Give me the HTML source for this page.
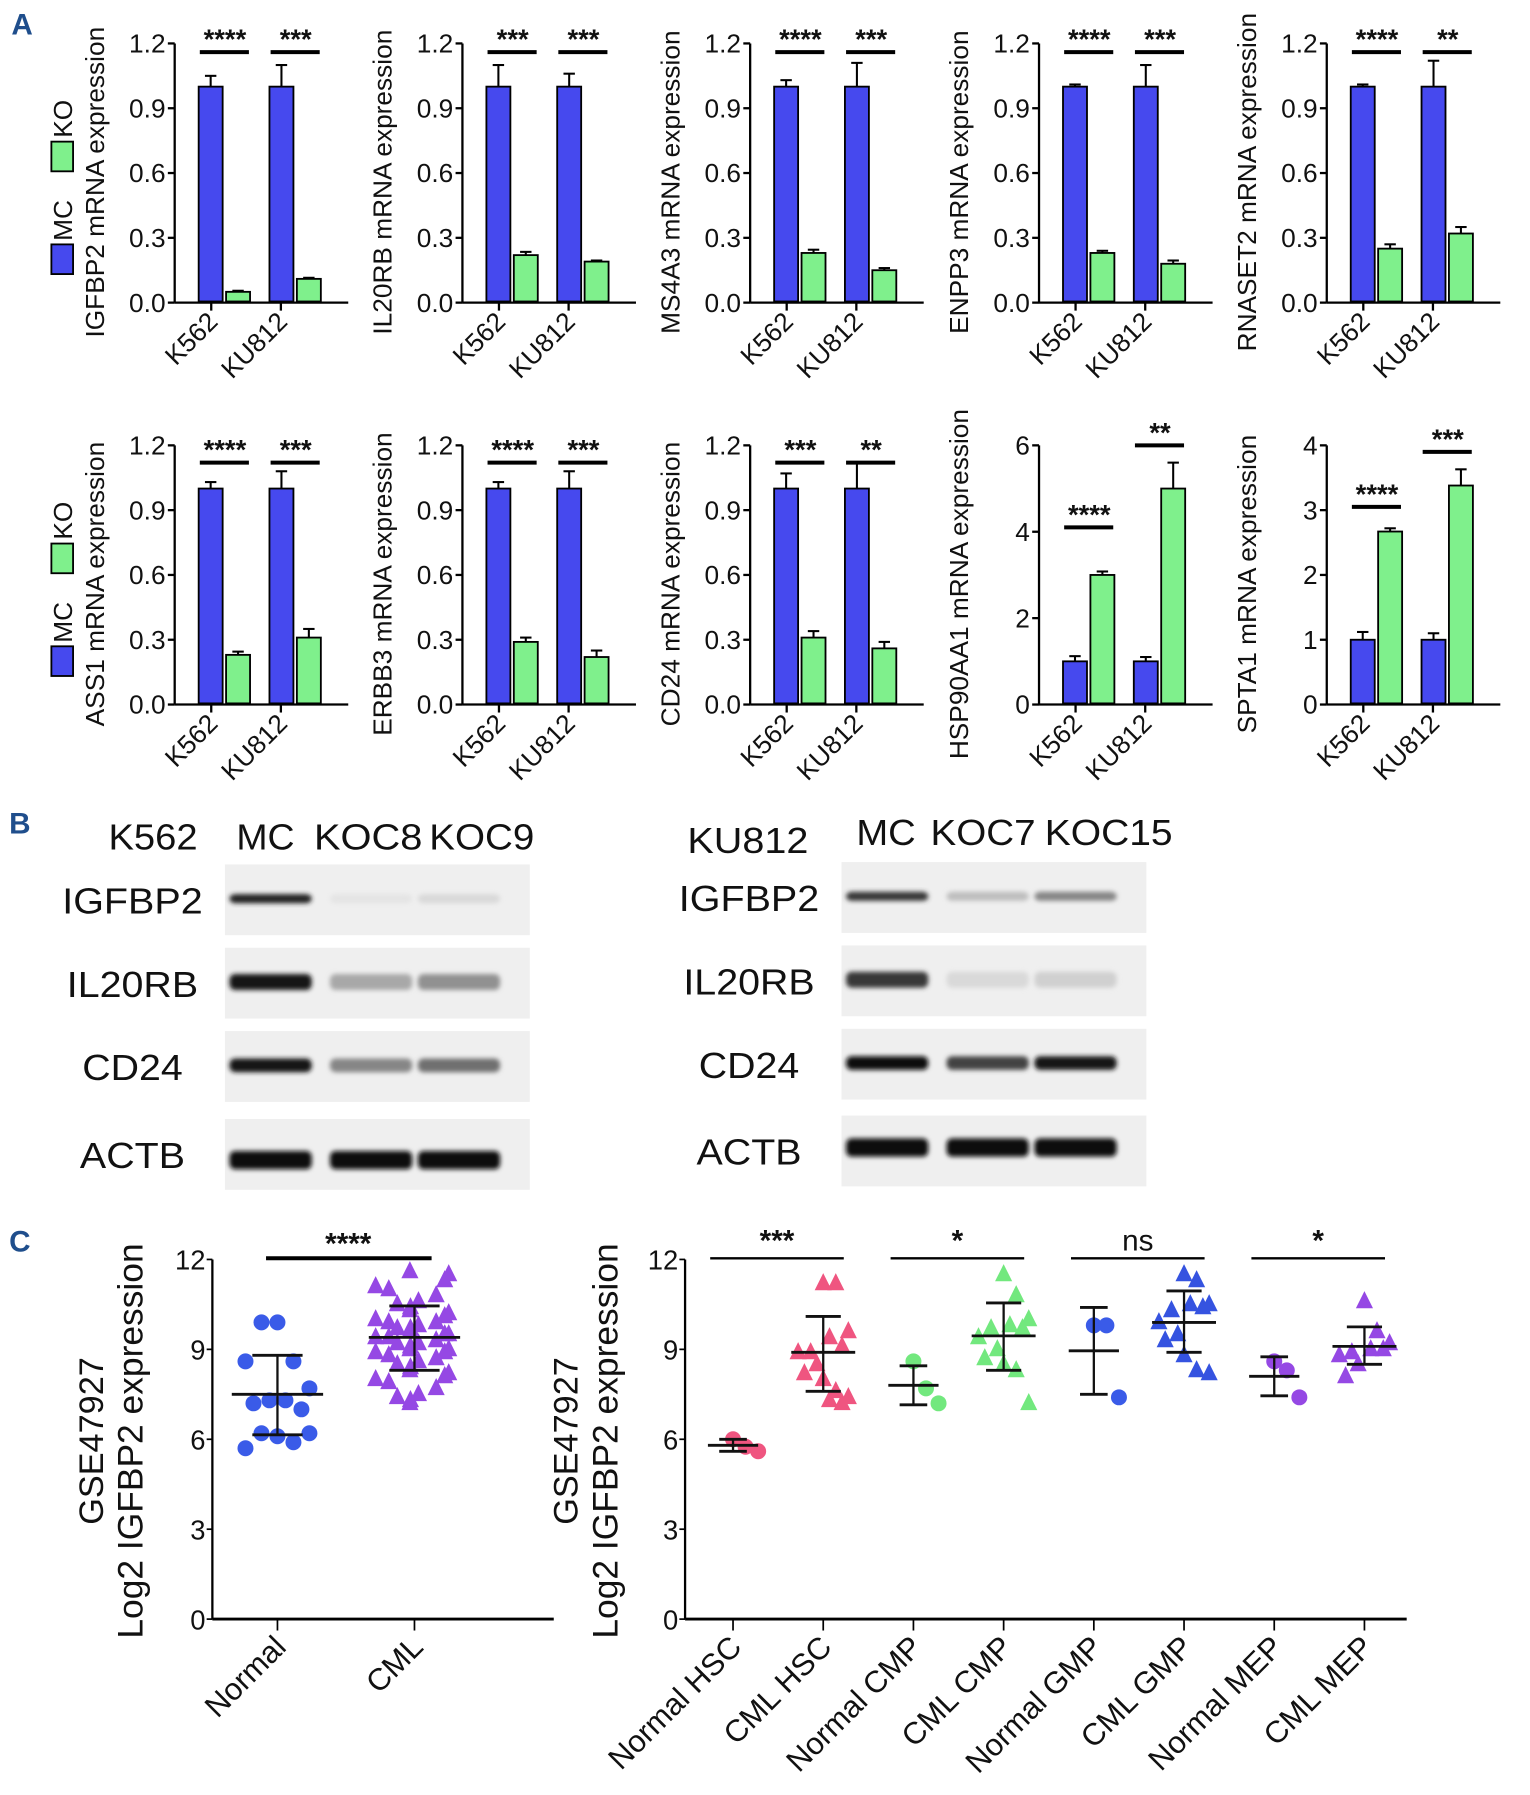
<!DOCTYPE html>
<html><head><meta charset="utf-8"><style>
html,body{margin:0;padding:0;background:#fff;width:1530px;height:1795px;overflow:hidden}
svg{display:block}
text{font-family:"Liberation Sans",Arial,sans-serif;fill:#111}
</style></head><body>
<svg id="fig" width="1530" height="1795" viewBox="0 0 1340 1572" xmlns="http://www.w3.org/2000/svg">
<defs><filter id="blur" x="-20%" y="-50%" width="140%" height="200%"><feGaussianBlur stdDeviation="2.2"/></filter></defs>
<text x="10" y="30" font-size="26" font-weight="bold" style="fill:#1f4e8c">A</text>
<text x="8" y="730" font-size="26" font-weight="bold" style="fill:#1f4e8c">B</text>
<text x="8" y="1096" font-size="26" font-weight="bold" style="fill:#1f4e8c">C</text>
<g id="gA"></g><g id="gB"></g><g id="gC"></g>
</svg>
<script>
// ===== Panel A data =====
const genes = ["IGFBP2","IL20RB","MS4A3","ENPP3","RNASET2","ASS1","ERBB3","CD24","HSP90AA1","SPTA1"];
const cellLines = ["K562","KU812"];
const mcK562 = [1,1,1,1,1,1,1,1,1,1];
const mcK562Err = [0.05,0.1,0.03,0.01,0.01,0.03,0.03,0.07,0.12,0.12];
const koK562 = [0.05,0.22,0.23,0.23,0.25,0.23,0.29,0.31,3.0,2.67];
const koK562Err = [0.005,0.015,0.015,0.01,0.02,0.015,0.02,0.03,0.08,0.05];
const mcKU812 = [1,1,1,1,1,1,1,1,1,1];
const mcKU812Err = [0.1,0.06,0.11,0.1,0.12,0.08,0.08,0.12,0.1,0.1];
const koKU812 = [0.11,0.19,0.15,0.18,0.32,0.31,0.22,0.26,5.0,3.38];
const koKU812Err = [0.005,0.005,0.01,0.015,0.03,0.04,0.03,0.03,0.6,0.25];
const yMaxA = [1.2,1.2,1.2,1.2,1.2,1.2,1.2,1.2,6,4];
const yTicksA = [[0,0.3,0.6,0.9,1.2],[0,0.3,0.6,0.9,1.2],[0,0.3,0.6,0.9,1.2],[0,0.3,0.6,0.9,1.2],[0,0.3,0.6,0.9,1.2],[0,0.3,0.6,0.9,1.2],[0,0.3,0.6,0.9,1.2],[0,0.3,0.6,0.9,1.2],[0,2,4,6],[0,1,2,3,4]];
const sigK562 = ["****","***","****","****","****","****","****","***","****","****"];
const sigKU812 = ["***","***","***","***","**","***","***","**","**","***"];
const sigK562Y = [1.16,1.16,1.16,1.16,1.16,1.12,1.12,1.12,4.1,3.05];
const sigKU812Y = [1.16,1.16,1.16,1.16,1.16,1.12,1.12,1.12,6.0,3.9];

// ===== Panel C data =====
const twoGroups = ["Normal","CML"];
const normalVals = [9.9,9.9,8.6,8.6,7.7,7.3,7.3,7.2,7.0,6.1,6.2,5.9,5.7,6.2];
const cmlVals = [11.6,11.5,11.3,11.1,11.0,10.8,10.6,10.5,10.4,10.3,10.2,10.1,10.0,9.9,9.9,9.8,9.7,9.7,9.6,9.5,9.5,9.4,9.4,9.3,9.2,9.2,9.1,9.0,9.0,8.9,8.9,8.8,8.7,8.6,8.5,8.4,8.3,8.2,8.1,8.0,7.9,7.7,7.5,7.4,7.3,7.2];
const normalStats = [7.5,6.15,8.8];
const cmlStats = [9.4,8.3,10.45];
const subGroups = ["Normal HSC","CML HSC","Normal CMP","CML CMP","Normal GMP","CML GMP","Normal MEP","CML MEP"];
const subVals = [
 [6.0,5.75,5.6],
 [11.2,11.2,9.6,9.4,9.1,8.9,8.9,8.5,8.2,8.0,7.6,7.4,7.3,7.2],
 [8.6,7.7,7.2],
 [11.5,10.8,10.0,9.8,9.7,9.7,9.4,9.0,8.7,8.5,8.3,7.2],
 [9.8,9.8,7.4],
 [11.5,11.3,10.5,10.5,10.4,10.3,9.9,9.5,9.3,8.8,8.3,8.2],
 [8.6,8.3,7.4],
 [10.6,9.6,9.2,9.0,9.0,8.9,8.8,8.5,8.1]];
const subMean = [5.8,8.9,7.8,9.45,8.95,9.9,8.1,9.1];
const subLo = [5.6,7.6,7.15,8.3,7.5,8.9,7.45,8.5];
const subHi = [6.0,10.1,8.45,10.55,10.4,10.95,8.75,9.75];
const subSig = ["***","*","ns","*"];
const yTicksC = [0,3,6,9,12];

const NS="http://www.w3.org/2000/svg";
function el(tag,attrs,parent,txt){const e=document.createElementNS(NS,tag);for(const k in attrs)e.setAttribute(k,attrs[k]);if(txt!==undefined)e.textContent=txt;parent.appendChild(e);return e;}
const BLUE="#4649ee",GREEN="#7ff08c";

// ===== Panel A =====
const gA=document.getElementById('gA');
const axX=[153,405,657,910,1162];
const rowY0=[265,617],rowTop=[38,390];
for(let i=0;i<10;i++){
  const r=Math.floor(i/5),c=i%5,ax=axX[c],y0=rowY0[r],yt=rowTop[r];
  const ys=v=>y0-(v/yMaxA[i])*(y0-yt);
  const g=el('g',{},gA);
  
  
  el('line',{x1:ax,y1:y0,x2:ax,y2:yt,stroke:'#000','stroke-width':2},g);
  el('line',{x1:ax,y1:y0,x2:ax+152,y2:y0,stroke:'#000','stroke-width':2},g);
  yTicksA[i].forEach(t=>{
    const y=ys(t);
    el('line',{x1:ax-6,y1:y,x2:ax,y2:y,stroke:'#000','stroke-width':2},g);
    const lbl=yMaxA[i]===1.2?t.toFixed(1):String(t);
    const tx=el('text',{x:ax-8,y:y+8,'font-size':23,'text-anchor':'end'},g,lbl);
    
    
  });
  const yl=el('text',{x:0,y:0,'font-size':23,'text-anchor':'middle',transform:`translate(${ax-62},${(y0+yt)/2+8}) rotate(-90)`},g,genes[i]+' mRNA expression');
  
  
  const groups=[[mcK562[i],mcK562Err[i],koK562[i],koK562Err[i],21,sigK562[i],sigK562Y[i]],[mcKU812[i],mcKU812Err[i],koKU812[i],koKU812Err[i],83,sigKU812[i],sigKU812Y[i]]];
  groups.forEach((gr,gi)=>{
    const [mv,me,kv,ke,off,sg,sy]=gr;
    [[mv,me,off,BLUE,'mc'],[kv,ke,off+24,GREEN,'ko']].forEach(b=>{
      const x=ax+b[2],w=21,yt2=ys(b[0]);
      const yErr=ys(b[0]+b[1]);
      const e1=el('line',{x1:x+w/2,y1:yt2,x2:x+w/2,y2:yErr,stroke:'#000','stroke-width':1.8},g);
      
      
      el('line',{x1:x+w/2-5,y1:yErr,x2:x+w/2+5,y2:yErr,stroke:'#000','stroke-width':1.8},g);
      const rc=el('rect',{x:x,y:yt2,width:w,height:y0-yt2-1,fill:b[3],stroke:'#000','stroke-width':1.6},g);
      
      
    });
    const cx=ax+off+11+12;
    const ly=ys(sy);
    const sl=el('line',{x1:ax+off+1,y1:ly,x2:ax+off+44,y2:ly,stroke:'#000','stroke-width':3.5},g);
    
    
    const st=el('text',{x:cx,y:ly-3,'font-size':24,'font-weight':'bold','text-anchor':'middle'},g,sg);
    
    
    const tkx=ax+(gi===0?32:93);
    el('line',{x1:tkx,y1:y0,x2:tkx,y2:y0+7,stroke:'#000','stroke-width':2},g);
    const cl=el('text',{x:0,y:0,'font-size':23,'text-anchor':'end',transform:`translate(${tkx+7},${y0+18}) rotate(-45)`},g,cellLines[gi]);
    
    
  });
}
// legends
[0,352].forEach((dy,k)=>{
  const lg=el('g',{},gA);
  
  
  el('rect',{x:45,y:214+dy,width:19,height:26,fill:BLUE,stroke:'#000','stroke-width':1.6},lg);
  el('text',{x:0,y:0,'font-size':23,'text-anchor':'middle',transform:`translate(63,${193+dy}) rotate(-90)`},lg,'MC');
  el('rect',{x:45,y:124+dy,width:19,height:26,fill:GREEN,stroke:'#000','stroke-width':1.6},lg);
  el('text',{x:0,y:0,'font-size':23,'text-anchor':'middle',transform:`translate(63,${104+dy}) rotate(-90)`},lg,'KO');
});

// ===== Panel B (blots) =====
const gB=document.getElementById('gB');
const blotRows=["IGFBP2","IL20RB","CD24","ACTB"];
const blotLblW=[123,115,88,92];
const k562Int=[[0.9,0.03,0.08],[0.95,0.3,0.4],[0.95,0.45,0.55],[1,1,1]];
const ku812Int=[[0.8,0.2,0.45],[0.8,0.08,0.12],[1,0.75,0.95],[1,1,1]];
function blot(x0,rowsY,ints,header,hx,hw,hy,cl,clx,clw,cly,lblC){
  const g=el('g',{},gB);
  
  
  const ct=el('text',{x:clx,y:cly,'font-size':32,textLength:clw,lengthAdjust:'spacingAndGlyphs'},g,cl);
  
  
  header.forEach((h,j)=>{const t=el('text',{x:hx[j],y:hy,'font-size':32,textLength:hw[j],lengthAdjust:'spacingAndGlyphs'},g,h);
    
    });
  blotRows.forEach((n,r)=>{
    const y=rowsY[r];
    el('rect',{x:x0,y:y,width:267,height:62,fill:'#efefef'},g);
    const t=el('text',{x:lblC,y:y+43,'font-size':32,'text-anchor':'middle',textLength:blotLblW[r],lengthAdjust:'spacingAndGlyphs'},g,n);
    
    
    ints[r].forEach((v,j)=>{
      const cx=x0+[40,128,205][j];
      const h=r===3?16:r===1?14:r===2?12:8;
      const yy=r===3?y+(x0>600?28:36):y+30;
      const gv=Math.round(235-v*225);
      const band=el('rect',{x:cx-36,y:yy-h/2,width:72,height:h,rx:5,fill:`rgb(${gv},${gv},${gv})`,filter:'url(#blur)'},g);
      
      
    });
  });
}
blot(197,[757,830,903,980],k562Int,["MC","KOC8","KOC9"],[207,275,376],[51,95,92],744,"K562",95,78,744,116);
blot(737,[755,828,901,977],ku812Int,["MC","KOC7","KOC15"],[750,815,915],[52,92,112],740,"KU812",602,106,747,656);

// ===== Panel C =====
const gC=document.getElementById('gC');
const Y0C=1418,Y12C=1103;
const ysC=v=>Y0C-(v/12)*(Y0C-Y12C);
const jit=[0,-1,1,-2,2,-0.5,0.5,-1.5,1.5];
function axesC(ax,xEnd,cats,catX,name,lblX){
  const g=el('g',{},gC);
  
  
  el('line',{x1:ax,y1:Y0C,x2:ax,y2:Y12C,stroke:'#000','stroke-width':2},g);
  el('line',{x1:ax,y1:Y0C,x2:xEnd,y2:Y0C,stroke:'#000','stroke-width':2.5},g);
  yTicksC.forEach(t=>{const y=ysC(t);el('line',{x1:ax-5,y1:y,x2:ax,y2:y,stroke:'#000','stroke-width':1.5},g);
    const tt=el('text',{x:ax-6,y:y+9,'font-size':24,'text-anchor':'end'},g,String(t));
    
    });
  const t1=el('text',{x:0,y:0,'font-size':30,'text-anchor':'middle',transform:`translate(${lblX},1262) rotate(-90)`},g,'GSE47927');
  
  
  const t2=el('text',{x:0,y:0,'font-size':31,'text-anchor':'middle',transform:`translate(${lblX+35},1262) rotate(-90)`},g,'Log2 IGFBP2 expression');
  
  
  cats.forEach((c,i)=>{const x=catX(i);el('line',{x1:x,y1:Y0C,x2:x,y2:Y0C+10,stroke:'#000','stroke-width':1.5},g);
    const ct=el('text',{x:0,y:0,'font-size':27,'text-anchor':'end',transform:`translate(${x+9},${Y0C+26}) rotate(-45)`},g,c);
    
    });
  return g;
}
function marker(g,x,y,shape,color,r){
  let m;
  if(shape==='c')m=el('circle',{cx:x,cy:y,r:r,fill:color},g);
  else m=el('polygon',{points:`${x},${y-r*1.2} ${x-r},${y+r*0.8} ${x+r},${y+r*0.8}`,fill:color},g);
  
  
}
function meanSd(g,x,m,lo,hi,w){
  el('line',{x1:x,y1:ysC(lo),x2:x,y2:ysC(hi),stroke:'#111','stroke-width':2},g);
  el('line',{x1:x-w,y1:ysC(m),x2:x+w,y2:ysC(m),stroke:'#111','stroke-width':2.5},g);
  el('line',{x1:x-w*0.55,y1:ysC(lo),x2:x+w*0.55,y2:ysC(lo),stroke:'#111','stroke-width':2.5},g);
  el('line',{x1:x-w*0.55,y1:ysC(hi),x2:x+w*0.55,y2:ysC(hi),stroke:'#111','stroke-width':2.5},g);
}
// left chart
const leftX=i=>[243,363][i];
const gl=axesC(186,485,twoGroups,leftX,'scatter-normal-vs-cml',90);
normalVals.forEach((v,i)=>marker(gl,leftX(0)+jit[i%9]*14,ysC(v),'c','#3a5be8',7));
cmlVals.forEach((v,i)=>marker(gl,leftX(1)+jit[(i*4)%9]*15+((i%3)-1)*4,ysC(v),'t','#9548e4',7.5));
meanSd(gl,leftX(0),normalStats[0],normalStats[1],normalStats[2],40);
meanSd(gl,leftX(1),cmlStats[0],cmlStats[1],cmlStats[2],40);
const ls=el('line',{x1:233,y1:1102,x2:378,y2:1102,stroke:'#000','stroke-width':3.5},gl);


el('text',{x:305,y:1098,'font-size':26,'font-weight':'bold','text-anchor':'middle'},gl,'****');
// right chart
const rightX=i=>642+i*79;
const gr=axesC(600,1232,subGroups,rightX,'scatter-subpopulations',506);
const subColor=['#ef5580','#ef5580','#72e87e','#72e87e','#3a5be8','#3553e0','#9548e4','#9548e4'];
subVals.forEach((arr,gi)=>{
  const shape=gi%2===0?'c':'t';
  arr.forEach((v,i)=>marker(gr,rightX(gi)+jit[(i*2)%9]*11,ysC(v),shape,subColor[gi],shape==='c'?7:7.5));
  meanSd(gr,rightX(gi),subMean[gi],subLo[gi],subHi[gi],gi%2===0?22:28);
});
subSig.forEach((s,k)=>{
  const x1=rightX(2*k)-20,x2=rightX(2*k+1)+18;
  const l=el('line',{x1:x1,y1:1102,x2:x2,y2:1102,stroke:'#000','stroke-width':2},gr);
  
  
  el('text',{x:(x1+x2)/2,y:1095,'font-size':26,'font-weight':s==='ns'?'normal':'bold','text-anchor':'middle'},gr,s);
});
</script>
</body></html>
